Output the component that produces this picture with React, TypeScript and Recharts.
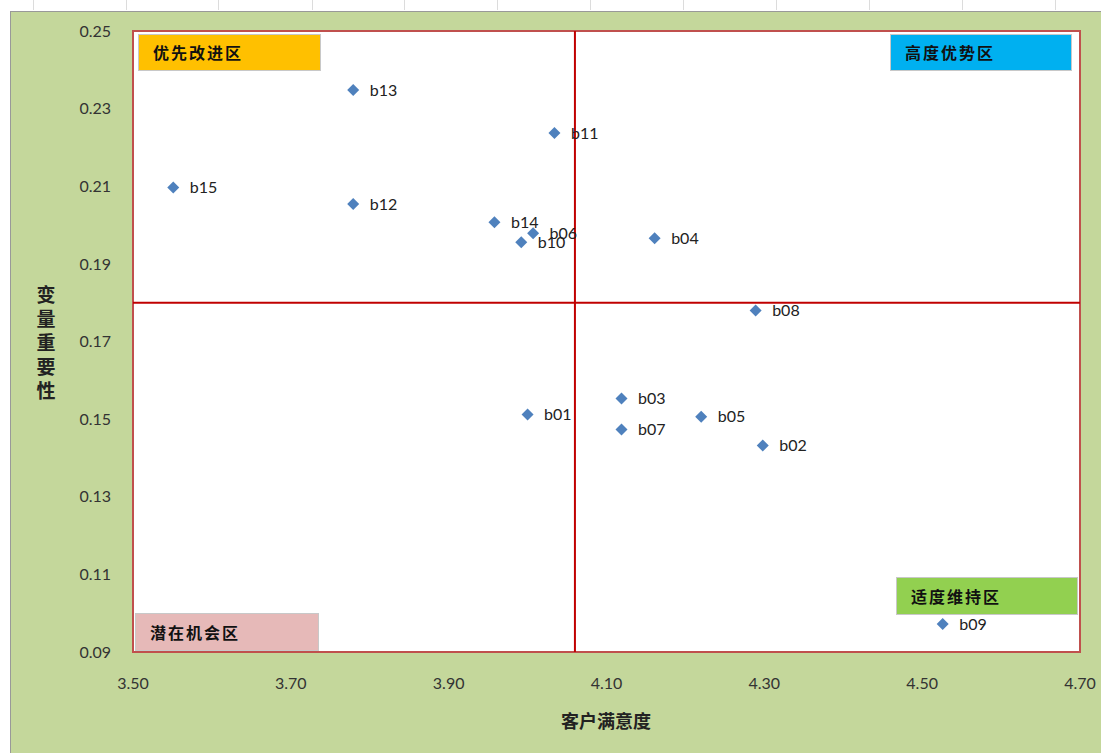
import React from 'react';
import { ScatterChart, Scatter, XAxis, YAxis, ReferenceLine, ReferenceArea, LabelList } from 'recharts';

const names = ['b01', 'b02', 'b03', 'b04', 'b05', 'b06', 'b07', 'b08', 'b09', 'b10', 'b11', 'b12', 'b13', 'b14', 'b15'];
const satisfaction = [4.0, 4.298, 4.119, 4.161, 4.22, 4.007, 4.119, 4.289, 4.526, 3.992, 4.034, 3.779, 3.779, 3.958, 3.551];
const importance = [0.1512, 0.1432, 0.1553, 0.1966, 0.1506, 0.1979, 0.1473, 0.178, 0.0972, 0.1956, 0.2237, 0.2054, 0.2348, 0.2007, 0.2097];
const xTicks = [3.5, 3.7, 3.9, 4.1, 4.3, 4.5, 4.7];
const yTicks = [0.09, 0.11, 0.13, 0.15, 0.17, 0.19, 0.21, 0.23, 0.25];
const xMean = 4.06;
const yMean = 0.18;
const yTitle = ['变', '量', '重', '要', '性'];

const data = names.map((n, i) => ({ name: n, x: satisfaction[i], y: importance[i] }));

const tickStyle = { fontFamily: 'Lato, "Open Sans", sans-serif', fontSize: 16, fill: '#333' };
const zoneFont = '"Noto Sans CJK SC", sans-serif';

const Diamond = (props: any) => {
  const { cx, cy } = props;
  const r = 6;
  return <polygon points={`${cx},${cy - r} ${cx + r},${cy} ${cx},${cy + r} ${cx - r},${cy}`} fill="#4F81BD" />;
};

const Zone = ({ left, top, width, height, bg, text }: any) => (
  <div
    style={{
      position: 'absolute', left, top, width, height, background: bg,
      border: '1px solid #c8c8c8', boxSizing: 'border-box',
      fontFamily: zoneFont, fontSize: 16, fontWeight: 700, color: '#111',
      paddingLeft: 14, lineHeight: height - 2 + 'px', letterSpacing: 2,
    }}
  >
    {text}
  </div>
);

const App = () => {
  return (
    <div style={{ position: 'fixed', left: 0, top: 0, width: 1101, height: 753, background: '#fff' }}>
      {[33, 126, 218, 312, 404, 497, 590, 683, 776, 869, 962, 1055].map((x) => (
        <div key={x} style={{ position: 'absolute', left: x, top: 0, width: 1, height: 10, background: '#dcdcdc' }} />
      ))}
      <div
        style={{
          position: 'absolute', left: 10, top: 11, width: 1091, height: 742,
          background: '#C4D79B', borderLeft: '1px solid #999', borderTop: '1px solid #999', boxSizing: 'border-box',
        }}
      >
        <ScatterChart width={1090} height={741} margin={{ top: 19, right: 21, bottom: 61, left: 62 }}>
          <XAxis
            type="number" dataKey="x" domain={[3.5, 4.7]} ticks={xTicks} axisLine={false} tickLine={false}
            tickSize={0} tickMargin={26} tick={tickStyle} tickFormatter={(v: number) => v.toFixed(2)}
            height={40}
            label={{
              content: () => (
                <text x={595} y={716} textAnchor="middle" style={{ fontFamily: zoneFont, fontSize: 18, fontWeight: 700, fill: '#222' }}>
                  客户满意度
                </text>
              ),
            }}
          />
          <YAxis
            type="number" dataKey="y" domain={[0.09, 0.25]} ticks={yTicks} axisLine={false} tickLine={false}
            tickSize={0} tickMargin={22} tick={tickStyle} tickFormatter={(v: number) => v.toFixed(2)}
            width={60}
            label={{
              content: () => (
                <text x={35} y={290} textAnchor="middle" style={{ fontFamily: zoneFont, fontSize: 19, fontWeight: 700, fill: '#222' }}>
                  {yTitle.map((c, i) => (
                    <tspan key={c} x={35} dy={i === 0 ? 0 : 24}>{c}</tspan>
                  ))}
                </text>
              ),
            }}
          />
          <ReferenceArea x1={3.5} x2={4.7} y1={0.09} y2={0.25} fill="#fff" fillOpacity={1} stroke="#C0504D" strokeWidth={2} />
          <ReferenceLine x={xMean} stroke="#C00000" strokeWidth={2} />
          <ReferenceLine y={yMean} stroke="#C00000" strokeWidth={2} />
          <Scatter data={data} fill="#4F81BD" shape={<Diamond />} isAnimationActive={false}>
            <LabelList dataKey="name" position="right" offset={12} style={{ fontFamily: 'Lato, "Open Sans", sans-serif', fontSize: 16, fill: '#222' }} />
          </Scatter>
        </ScatterChart>
      </div>
      <Zone left={138} top={34} width={183} height={37} bg="#FFC000" text="优先改进区" />
      <Zone left={890} top={34} width={182} height={37} bg="#00B0F0" text="高度优势区" />
      <Zone left={896} top={577} width={182} height={38} bg="#92D050" text="适度维持区" />
      <Zone left={135} top={613} width={184} height={38} bg="#E6B9B8" text="潜在机会区" />
    </div>
  );
};

export default App;
